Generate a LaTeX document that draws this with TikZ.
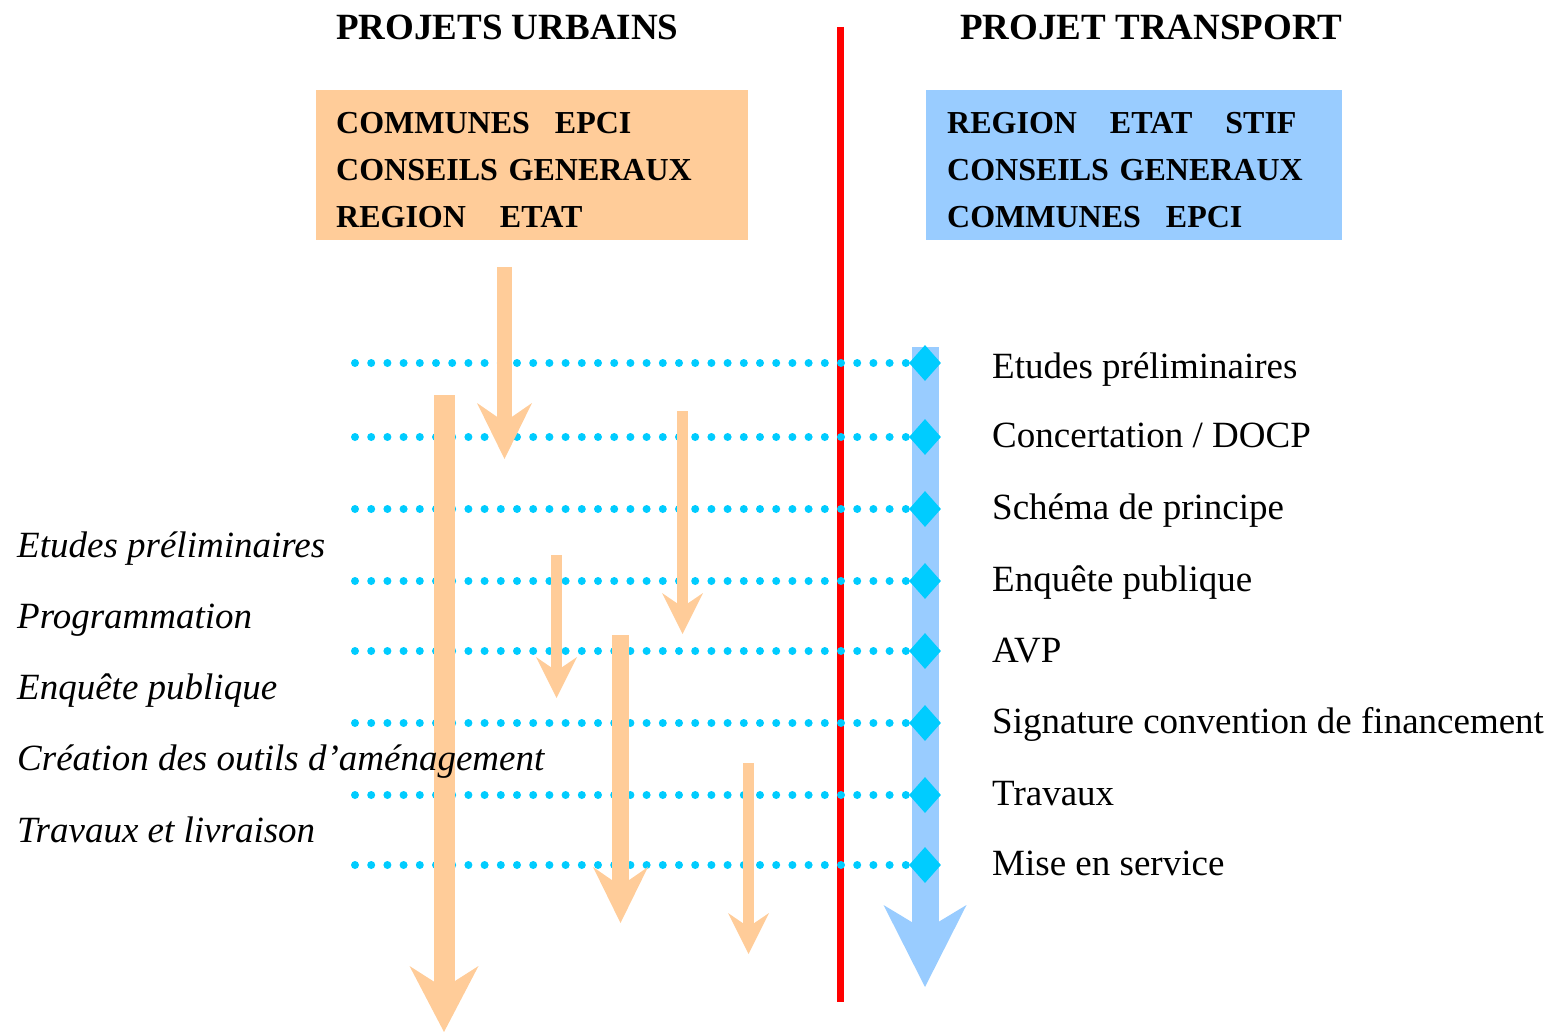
\documentclass[tikz,border=0pt]{standalone}
\usepackage{fontspec}
\setmainfont{Liberation Serif}
\usetikzlibrary{arrows.meta, shapes.geometric}
\definecolor{urbain}{HTML}{FFCC99}
\definecolor{transport}{HTML}{99CCFF}
\definecolor{jalon}{HTML}{00CCFF}

\begin{document}
\begin{tikzpicture}[x=1pt, y=-1pt, line cap=butt,
  titre/.style={font=\fontsize{37}{44}\selectfont\bfseries, anchor=base west, inner sep=0pt},
  acteurs/.style={font=\fontsize{32}{47}\selectfont\bfseries, align=left, anchor=north west,
    inner xsep=20pt, inner ysep=0pt, minimum height=150pt},
  etape/.style={font=\fontsize{37}{44}\selectfont, anchor=base west, inner sep=0pt},
  phase/.style={font=\fontsize{37}{44}\selectfont\itshape, anchor=base west, inner sep=0pt},
  losange/.style={diamond, fill=jalon, minimum width=32pt, minimum height=36pt, inner sep=0pt},
  pointille/.style={jalon, line width=8pt, line cap=round, dash pattern=on 0pt off 16.2pt},
  fleche/.style={urbain, line width=11pt, -{Stealth[length=41pt, width=41pt, inset=14pt, line width=0pt]}},
  grossefleche/.style={urbain, line width=16pt, -{Stealth[length=56pt, width=55pt, inset=19pt, line width=0pt]}}]
\useasboundingbox (0,0) rectangle (1554,1032);

% titres et acteurs
\node[titre] (tu) at (336,40) {PROJETS URBAINS};
\node[titre] (tt) at (960,40) {PROJET TRANSPORT};
\node[acteurs, fill=urbain, minimum width=432pt, text width=392pt] (au) at (316,90)
  {\rule{0pt}{30pt}COMMUNES\hspace{25pt}EPCI\\CONSEILS GENERAUX\\REGION\hspace{34pt}ETAT};
\node[acteurs, fill=transport, minimum width=416pt, text width=374pt, inner xsep=21pt] (at) at (926,90)
  {\rule{0pt}{30pt}REGION\hspace{33pt}ETAT\hspace{33pt}STIF\\CONSEILS GENERAUX\\COMMUNES\hspace{25pt}EPCI};

% separation
\coordinate (s1) at (840,27);
\coordinate (s2) at (840,1002);
\draw[red, line width=7pt] (s1) -- (s2);

% projet transport
\coordinate (t1) at (925,347);
\coordinate (t2) at (925,987);
\draw[transport, line width=27pt, -{Stealth[length=82pt, width=83pt, inset=25pt, line width=0pt]}] (t1) -- (t2);

\foreach \y/\b/\t [count=\i] in {363/378/Etudes préliminaires, 437/447/{Concertation / DOCP},
    509/519/Schéma de principe, 581/591/Enquête publique, 651/662/AVP,
    723/733/Signature convention de financement, 795/805/Travaux, 865/875/Mise en service}{
  \node[losange] (m\i) at (925,\y) {};
  \coordinate (d\i) at (355,\y);
  \draw[pointille] (d\i) -- (m\i.west);
  \node[etape] (e\i) at (992,\b) {\t};
}

% projets urbains
\coordinate (u1) at (504.5,267);  \coordinate (v1) at (504.5,459);
\coordinate (u2) at (444,395);    \coordinate (v2) at (444,1032);
\coordinate (u3) at (682.5,411);  \coordinate (v3) at (682.5,634);
\coordinate (u4) at (556.5,555);  \coordinate (v4) at (556.5,698);
\coordinate (u5) at (620.5,635);  \coordinate (v5) at (620.5,923);
\coordinate (u6) at (748.5,763);  \coordinate (v6) at (748.5,954);
\draw[grossefleche, line width=15pt] (u1) -- (v1);
\draw[urbain, line width=21pt, -{Stealth[length=66pt, width=69pt, inset=22pt, line width=0pt]}] (u2) -- (v2);
\draw[fleche] (u3) -- (v3);
\draw[fleche] (u4) -- (v4);
\draw[grossefleche, line width=17pt] (u5) -- (v5);
\draw[fleche] (u6) -- (v6);

\foreach \b/\t [count=\i] in {557/Etudes préliminaires, 628/Programmation, 699/Enquête publique,
    770/Création des outils d’aménagement, 842/Travaux et livraison}
  \node[phase] (p\i) at (17,\b) {\t};
\end{tikzpicture}
\end{document}
